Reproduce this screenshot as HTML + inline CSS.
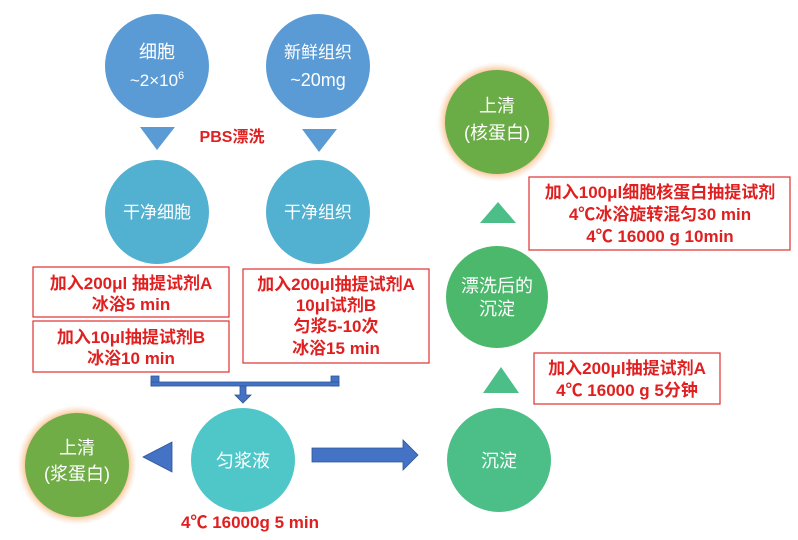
<!DOCTYPE html>
<html><head><meta charset="utf-8"><style>
body{margin:0;background:#fff;width:798px;height:535px;overflow:hidden}
svg text{font-family:"Liberation Sans","Noto Sans CJK SC",sans-serif}
</style></head><body>
<svg width="798" height="535" viewBox="0 0 798 535" xmlns="http://www.w3.org/2000/svg">
<defs>
<radialGradient id="glow" cx="50%" cy="50%" r="50%">
<stop offset="82%" stop-color="#f4a460" stop-opacity="0.9"/>
<stop offset="100%" stop-color="#fbd3b0" stop-opacity="0"/>
</radialGradient>
</defs>
<g fill="#fff" text-anchor="middle">
<circle cx="157" cy="66" r="52" fill="#5b9bd5"/>
<text x="157" y="58" font-size="18">细胞</text>
<text x="157" y="86" font-size="17">~2×10<tspan font-size="11" dy="-7">6</tspan></text>
<circle cx="318" cy="66" r="52" fill="#5b9bd5"/>
<text x="318" y="58" font-size="17">新鲜组织</text>
<text x="318" y="86" font-size="18">~20mg</text>
<circle cx="157" cy="212" r="52" fill="#52b0d0"/>
<text x="157" y="218" font-size="17">干净细胞</text>
<circle cx="318" cy="212" r="52" fill="#52b0d0"/>
<text x="318" y="218" font-size="17">干净组织</text>
<circle cx="77" cy="465" r="60" fill="url(#glow)"/>
<circle cx="77" cy="465" r="52" fill="#70ad47"/>
<text x="77" y="454" font-size="18">上清</text>
<text x="77" y="480" font-size="18">(浆蛋白)</text>
<circle cx="243" cy="460" r="52" fill="#4fc7c9"/>
<text x="243" y="467" font-size="18">匀浆液</text>
<circle cx="499" cy="460" r="52" fill="#4bbf87"/>
<text x="499" y="467" font-size="18">沉淀</text>
<circle cx="497" cy="297" r="51" fill="#4bb86c"/>
<text x="497" y="292" font-size="18">漂洗后的</text>
<text x="497" y="315" font-size="18">沉淀</text>
<circle cx="497" cy="122" r="60" fill="url(#glow)"/>
<circle cx="497" cy="122" r="52" fill="#6aac45"/>
<text x="497" y="112" font-size="18">上清</text>
<text x="497" y="139" font-size="18">(核蛋白)</text>
</g>
<polygon points="140,127 175,127 157,150" fill="#5b9bd5"/>
<polygon points="302,129 337,129 319,152" fill="#5b9bd5"/>
<text x="232" y="142" font-size="16" font-weight="bold" fill="#e02020" text-anchor="middle">PBS漂洗</text>
<g fill="#fff" stroke="#e03030" stroke-width="1.2">
<rect x="33" y="267" width="196" height="50"/>
<rect x="33" y="321" width="196" height="51"/>
<rect x="243" y="269" width="186" height="94"/>
<rect x="529" y="177" width="261" height="73"/>
<rect x="534" y="353" width="186" height="51"/>
</g>
<g font-size="17" font-weight="bold" fill="#e02020" text-anchor="middle">
<text x="131" y="289">加入200μl 抽提试剂A</text>
<text x="131" y="310">冰浴5 min</text>
<text x="131" y="343">加入10μl抽提试剂B</text>
<text x="131" y="364">冰浴10 min</text>
<text x="336" y="290">加入200μl抽提试剂A</text>
<text x="336" y="311">10μl试剂B</text>
<text x="336" y="332">匀浆5-10次</text>
<text x="336" y="354">冰浴15 min</text>
<text x="660" y="198">加入100μl细胞核蛋白抽提试剂</text>
<text x="660" y="220">4℃冰浴旋转混匀30 min</text>
<text x="660" y="242">4℃ 16000 g 10min</text>
<text x="627" y="374">加入200μl抽提试剂A</text>
<text x="627" y="396">4℃ 16000 g 5分钟</text>
<text x="250" y="528">4℃ 16000g 5 min</text>
</g>
<g fill="#4472c4" stroke="#2f5597" stroke-width="0.8">
<rect x="151" y="376" width="8" height="10"/>
<rect x="331" y="376" width="8" height="10"/>
<rect x="151" y="382" width="188" height="4"/>
<polygon points="240,386 246,386 246,395 251,395 243,403 235,395 240,395"/>
<polygon points="143,457 172,442 172,472"/>
<polygon points="312,448 403,448 403,440 418,455 403,470 403,462 312,462"/>
</g>
<polygon points="480,223 516,223 498,202" fill="#4bbf87"/>
<polygon points="483,393 519,393 501,367" fill="#4bbf87"/>
</svg>
</body></html>
